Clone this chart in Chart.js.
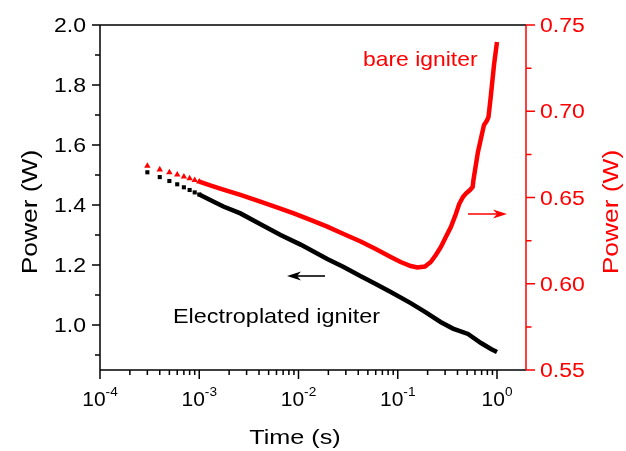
<!DOCTYPE html>
<html>
<head>
<meta charset="utf-8">
<script src="https://cdn.jsdelivr.net/npm/chart.js@4.4.1/dist/chart.umd.min.js"></script>
<style>
  html, body { margin: 0; padding: 0; background: #ffffff; }
  #chart { display: block; }
</style>
</head>
<body>
<canvas id="chart" width="626" height="451"></canvas>
<script>
// Electroplated igniter, left axis (W)
const platedTime = [3e-4, 4e-4, 5e-4, 6e-4, 7e-4, 8e-4, 9e-4, 1e-3, 1.29e-3, 1.75e-3, 2.6e-3, 4.1e-3,
  6.6e-3, 1.05e-2, 1.95e-2, 2.85e-2, 4.2e-2, 6e-2, 8.5e-2, 0.135, 0.19, 0.27, 0.36, 0.51, 0.69, 0.87, 1.0];
const platedPower = [1.509, 1.493, 1.480, 1.469, 1.459, 1.450, 1.442, 1.435, 1.417, 1.395, 1.372, 1.337,
  1.300, 1.268, 1.220, 1.193, 1.163, 1.137, 1.110, 1.073, 1.043, 1.010, 0.988, 0.970, 0.940, 0.920, 0.910];

// bare igniter, right axis (W)
const bareTime = [3e-4, 4e-4, 5e-4, 6e-4, 7e-4, 8e-4, 9e-4, 1e-3, 1.29e-3, 1.75e-3, 2.6e-3, 4.13e-3,
  6.58e-3, 8.97e-3, 1.32e-2, 1.95e-2, 2.85e-2, 4.23e-2, 6e-2, 8.5e-2, 0.107, 0.135, 0.158, 0.188, 0.215,
  0.242, 0.272, 0.305, 0.343, 0.385, 0.416, 0.454, 0.486, 0.534, 0.568, 0.579, 0.643, 0.739, 0.792,
  0.821, 0.869, 0.933, 1.0];
const barePower = [0.6683, 0.6662, 0.6645, 0.6632, 0.6621, 0.6611, 0.6601, 0.6592, 0.6570, 0.6546, 0.6515,
  0.6476, 0.6436, 0.6408, 0.6370, 0.6331, 0.6288, 0.6245, 0.6201, 0.6155, 0.6126, 0.6103, 0.6094, 0.6100,
  0.6126, 0.6167, 0.6213, 0.6271, 0.6329, 0.6404, 0.6462, 0.6503, 0.6523, 0.6543, 0.6561, 0.6601, 0.6764,
  0.6920, 0.6946, 0.6967, 0.7094, 0.7268, 0.7401];

// axis ticks
const timeTicks = [1e-4, 1e-3, 1e-2, 1e-1, 1];
const timeTickExp = ["-4", "-3", "-2", "-1", "0"];
const leftTicks = [1.0, 1.2, 1.4, 1.6, 1.8, 2.0];
const leftTickLabels = ["1.0", "1.2", "1.4", "1.6", "1.8", "2.0"];
const rightTicks = [0.55, 0.60, 0.65, 0.70, 0.75];
const rightTickLabels = ["0.55", "0.60", "0.65", "0.70", "0.75"];

const RED = "#ff0000";
const FONT = "'Liberation Sans', Arial, sans-serif";

function toPoints(xs, ys) {
  return xs.map((x, i) => ({ x: x, y: ys[i] }));
}

// the reference font runs wide, so text gets a horizontal stretch
function drawText(ctx, str, x, y, size, color, align, rot, sx) {
  ctx.save();
  ctx.translate(x, y);
  if (rot) ctx.rotate(rot);
  ctx.scale(sx || 1, 1);
  ctx.font = size + "px " + FONT;
  ctx.fillStyle = color;
  ctx.textAlign = align || "left";
  ctx.textBaseline = "alphabetic";
  ctx.fillText(str, 0, 0);
  ctx.restore();
}

function arrow(ctx, x0, x1, y, color) {
  const dir = x1 > x0 ? 1 : -1;
  ctx.save();
  ctx.strokeStyle = color;
  ctx.fillStyle = color;
  ctx.lineWidth = 1.6;
  ctx.beginPath();
  ctx.moveTo(x0, y);
  ctx.lineTo(x1 - dir * 6, y);
  ctx.stroke();
  ctx.beginPath();
  ctx.moveTo(x1, y);
  ctx.lineTo(x1 - dir * 14, y - 4.5);
  ctx.lineTo(x1 - dir * 10, y);
  ctx.lineTo(x1 - dir * 14, y + 4.5);
  ctx.closePath();
  ctx.fill();
  ctx.restore();
}

const axesPlugin = {
  id: "originAxes",
  afterDatasetsDraw(chart) {
    const ctx = chart.ctx;
    const a = chart.chartArea;
    const x = chart.scales.x, y = chart.scales.y, y1 = chart.scales.y1;

    ctx.save();
    ctx.lineWidth = 1.5;
    // frame
    ctx.strokeStyle = "#000";
    ctx.beginPath();
    ctx.moveTo(a.left, a.top); ctx.lineTo(a.right, a.top);
    ctx.moveTo(a.left, a.bottom); ctx.lineTo(a.right, a.bottom);
    ctx.moveTo(a.left, a.top); ctx.lineTo(a.left, a.bottom);
    ctx.stroke();
    ctx.strokeStyle = RED;
    ctx.beginPath();
    ctx.moveTo(a.right, a.top); ctx.lineTo(a.right, a.bottom);
    ctx.stroke();

    // x ticks, outward
    ctx.strokeStyle = "#000";
    ctx.beginPath();
    for (let e = -4; e <= 0; e++) {
      for (let k = 1; k <= 9; k++) {
        const v = k * Math.pow(10, e);
        if (v > x.max) break;
        const px = x.getPixelForValue(v);
        ctx.moveTo(px, a.bottom);
        ctx.lineTo(px, a.bottom + (k === 1 ? 9 : 5));
      }
    }
    // left ticks
    for (let v = 0.9; v <= 2.001; v += 0.1) {
      const py = y.getPixelForValue(v);
      const major = Math.abs(Math.round(v * 10) % 2) === 0;
      ctx.moveTo(a.left, py);
      ctx.lineTo(a.left - (major ? 8 : 5), py);
    }
    ctx.stroke();
    // right ticks
    ctx.strokeStyle = RED;
    ctx.beginPath();
    for (let v = 0.55; v <= 0.7501; v += 0.025) {
      const py = y1.getPixelForValue(v);
      const major = Math.round(v * 1000) % 50 === 0;
      ctx.moveTo(a.right, py);
      ctx.lineTo(a.right + (major ? 9 : 5.5), py);
    }
    ctx.stroke();
    ctx.restore();

    // tick labels
    leftTicks.forEach((v, i) => {
      drawText(ctx, leftTickLabels[i], a.left - 14, y.getPixelForValue(v) + 7, 20, "#000", "right", 0, 1.15);
    });
    rightTicks.forEach((v, i) => {
      drawText(ctx, rightTickLabels[i], a.right + 14, y1.getPixelForValue(v) + 7, 20, RED, "left", 0, 1.15);
    });
    timeTicks.forEach((v, i) => {
      const px = x.getPixelForValue(v);
      ctx.save();
      ctx.font = "20px " + FONT;
      const wBase = ctx.measureText("10").width * 1.05;
      ctx.font = "13px " + FONT;
      const wExp = ctx.measureText(timeTickExp[i]).width * 1.05;
      ctx.restore();
      const left = px - (wBase + wExp) / 2;
      drawText(ctx, "10", left, 406, 20, "#000", "left", 0, 1.05);
      drawText(ctx, timeTickExp[i], left + wBase, 396, 13, "#000", "left", 0, 1.05);
    });

    // axis titles
    drawText(ctx, "Time (s)", 295, 444, 21, "#000", "center", 0, 1.2);
    drawText(ctx, "Power (W)", 37, 212, 22, "#000", "center", -Math.PI / 2, 1.2);
    drawText(ctx, "Power (W)", 618, 212, 22, RED, "center", -Math.PI / 2, 1.2);

    // annotations
    drawText(ctx, "bare igniter", 363, 66, 21, RED, "left", 0, 1.09);
    drawText(ctx, "Electroplated igniter", 173, 323, 21, "#000", "left", 0, 1.115);
    arrow(ctx, 325, 287, 276, "#000");
    arrow(ctx, 468, 507, 214, RED);
  }
};

new Chart(document.getElementById("chart"), {
  type: "scatter",
  data: {
    datasets: [
      {
        label: "Electroplated igniter",
        data: toPoints(platedTime, platedPower),
        yAxisID: "y",
        showLine: true,
        borderColor: "#000",
        backgroundColor: "#000",
        borderWidth: 4.5,
        pointStyle: "rect",
        pointRadius: c => platedTime[c.dataIndex] < 1.2e-3 ? 2.9 : 0,
        pointBorderWidth: 0,
        segment: {
          borderColor: c => platedTime[c.p0DataIndex] < 9.9e-4 ? "rgba(0,0,0,0)" : "#000"
        }
      },
      {
        label: "bare igniter",
        data: toPoints(bareTime, barePower),
        yAxisID: "y1",
        showLine: true,
        borderColor: RED,
        backgroundColor: RED,
        borderWidth: 4.5,
        pointStyle: "triangle",
        pointRadius: c => bareTime[c.dataIndex] < 1.2e-3 ? 3.7 : 0,
        pointBorderWidth: 0,
        segment: {
          borderColor: c => bareTime[c.p0DataIndex] < 9.9e-4 ? "rgba(255,0,0,0)" : RED
        }
      }
    ]
  },
  options: {
    responsive: false,
    animation: false,
    layout: { padding: { left: 100, top: 25, right: 100, bottom: 81 } },
    plugins: { legend: { display: false }, tooltip: { enabled: false } },
    scales: {
      x: { type: "logarithmic", min: 1e-4, max: 1.96, display: false },
      y: { min: 0.85, max: 2.0, display: false },
      y1: { min: 0.55, max: 0.75, display: false }
    }
  },
  plugins: [axesPlugin]
});
</script>
</body>
</html>
